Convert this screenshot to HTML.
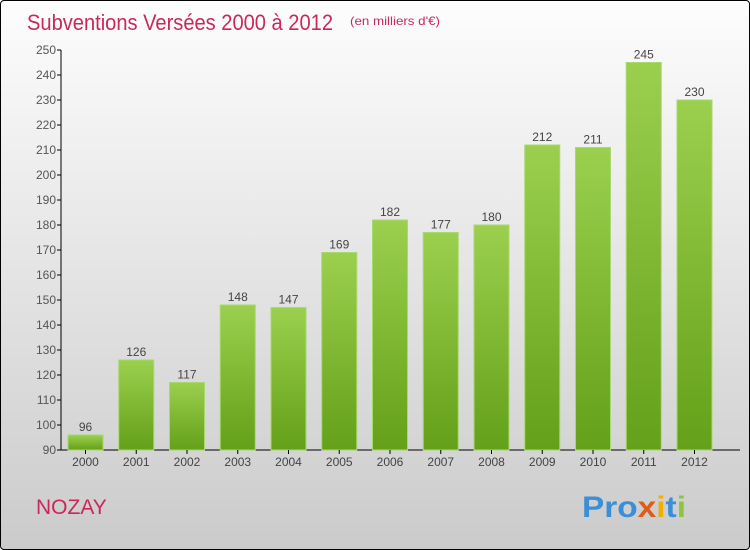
<!DOCTYPE html>
<html><head><meta charset="utf-8"><style>
html,body{margin:0;padding:0;}
body{width:750px;height:550px;overflow:hidden;font-family:"Liberation Sans",sans-serif;}
#wrap{position:absolute;left:0;top:0;width:748px;height:548px;border:1px solid #000;border-radius:4px;background:linear-gradient(#fdfdfd,#cbcbcb);}
</style></head><body>
<div id="wrap">
<svg id="chart" width="750" height="550" style="position:absolute;left:-1px;top:-1px">
<defs>
<linearGradient id="bg" x1="0" y1="0" x2="0" y2="1"><stop offset="0" stop-color="#9bd04e"/><stop offset="1" stop-color="#64a019"/></linearGradient>
</defs>
<text x="27" y="30" font-size="22" fill="#c8285a" textLength="306" lengthAdjust="spacingAndGlyphs">Subventions Versées 2000 à 2012</text>
<text x="350" y="25" font-size="12" fill="#c8285a" textLength="90" lengthAdjust="spacingAndGlyphs">(en milliers d'€)</text>
<text x="36" y="514" font-size="21" fill="#c8285a">NOZAY</text>
<g font-size="30" font-weight="bold">
<text x="582" y="517" textLength="104" lengthAdjust="spacingAndGlyphs"><tspan fill="#3b8fd6">Pro</tspan><tspan fill="#e05a1a">x</tspan><tspan fill="#f0b000">i</tspan><tspan fill="#3b8fd6">t</tspan><tspan fill="#8cc63f">i</tspan></text>
</g>
<g id="plot"></g>
</svg>
</div>
<script>
const years=["2000","2001","2002","2003","2004","2005","2006","2007","2008","2009","2010","2011","2012"];
const values=[96,126,117,148,147,169,182,177,180,212,211,245,230];
const yTicks=[90,100,110,120,130,140,150,160,170,180,190,200,210,220,230,240,250];
const NS="http://www.w3.org/2000/svg";
const g=document.getElementById('plot');
const yMin=90,yMax=250,top0=50,bot=450;
function y(v){return bot-(v-yMin)/(yMax-yMin)*(bot-top0);}
function xc(i){return 85.5+i*50.75;}
function mk(t,a){const e=document.createElementNS(NS,t);for(const k in a)e.setAttribute(k,a[k]);g.appendChild(e);return e;}
let ax=mk('line',{x1:61,y1:top0,x2:61,y2:bot,stroke:'#000'});


let bx=mk('line',{x1:61,y1:bot,x2:740,y2:bot,stroke:'#000'});


yTicks.forEach(v=>{
 mk('line',{x1:57,y1:y(v),x2:61,y2:y(v),stroke:'#000'});
 const t=mk('text',{x:56,y:y(v)+4,'text-anchor':'end','font-size':12,fill:'#555'});
 t.textContent=v;
 
 
});
years.forEach((yr,i)=>{
 const c=xc(i),v=values[i];
 const r=mk('rect',{x:c-17.5,y:y(v),width:35,height:bot-y(v),fill:'url(#bg)',stroke:'#a8d870','stroke-width':1});
 
 
 const l=mk('text',{x:c,y:y(v)-4,'text-anchor':'middle','font-size':12,fill:'#444'});
 l.textContent=v;
 
 
 mk('line',{x1:c,y1:bot,x2:c,y2:bot+4,stroke:'#000'});
 const xl=mk('text',{x:c,y:bot+16,'text-anchor':'middle','font-size':12,fill:'#444'});
 xl.textContent=yr;
 
 
});
</script>
</body></html>
